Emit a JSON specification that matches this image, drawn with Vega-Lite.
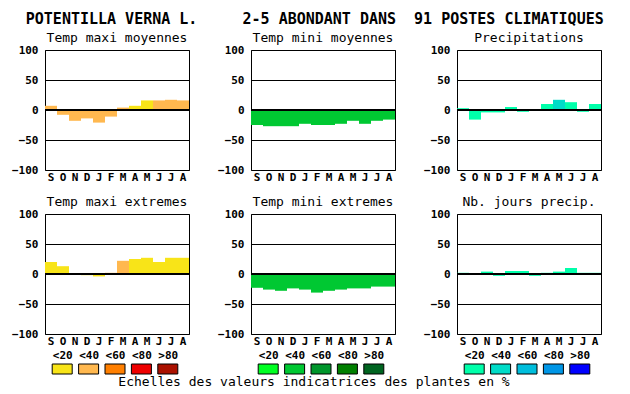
{
  "$schema": "https://vega.github.io/schema/vega-lite/v6.json",
  "background": "white",
  "padding": {"left": 11, "top": 11, "right": 5, "bottom": 2},
  "title": {"text": "POTENTILLA VERNA L.\u00a0\u00a0\u00a0\u00a0\u00a02-5 ABONDANT DANS\u00a0\u00a091 POSTES CLIMATIQUES", "fontSize": 15, "fontWeight": "bold", "anchor": "middle", "offset": 5, "dx": 8},
  "datasets": {
    "mois": [
      {"panel": "txm", "m": "Sep", "v": 7, "c": "<40"},
      {"panel": "txm", "m": "Oct", "v": -8, "c": "<40"},
      {"panel": "txm", "m": "Nov", "v": -18, "c": "<40"},
      {"panel": "txm", "m": "Dec", "v": -14, "c": "<40"},
      {"panel": "txm", "m": "Jan", "v": -21, "c": "<40"},
      {"panel": "txm", "m": "Feb", "v": -11, "c": "<40"},
      {"panel": "txm", "m": "Mar", "v": 4, "c": "<40"},
      {"panel": "txm", "m": "Apr", "v": 7, "c": "<20"},
      {"panel": "txm", "m": "May", "v": 16, "c": "<20"},
      {"panel": "txm", "m": "Jun", "v": 16, "c": "<40"},
      {"panel": "txm", "m": "Jul", "v": 17, "c": "<40"},
      {"panel": "txm", "m": "Aug", "v": 16, "c": "<40"},
      {"panel": "tnm", "m": "Sep", "v": -25, "c": "<40"},
      {"panel": "tnm", "m": "Oct", "v": -27, "c": "<40"},
      {"panel": "tnm", "m": "Nov", "v": -27, "c": "<40"},
      {"panel": "tnm", "m": "Dec", "v": -27, "c": "<40"},
      {"panel": "tnm", "m": "Jan", "v": -23, "c": "<40"},
      {"panel": "tnm", "m": "Feb", "v": -25, "c": "<40"},
      {"panel": "tnm", "m": "Mar", "v": -25, "c": "<40"},
      {"panel": "tnm", "m": "Apr", "v": -23, "c": "<40"},
      {"panel": "tnm", "m": "May", "v": -18, "c": "<40"},
      {"panel": "tnm", "m": "Jun", "v": -23, "c": "<40"},
      {"panel": "tnm", "m": "Jul", "v": -18, "c": "<40"},
      {"panel": "tnm", "m": "Aug", "v": -16, "c": "<40"},
      {"panel": "pr", "m": "Sep", "v": 3, "c": "<20"},
      {"panel": "pr", "m": "Oct", "v": -16, "c": "<20"},
      {"panel": "pr", "m": "Nov", "v": -4, "c": "<20"},
      {"panel": "pr", "m": "Dec", "v": -4, "c": "<20"},
      {"panel": "pr", "m": "Jan", "v": 5, "c": "<20"},
      {"panel": "pr", "m": "Feb", "v": -3, "c": "<20"},
      {"panel": "pr", "m": "Mar", "v": 0, "c": "<20"},
      {"panel": "pr", "m": "Apr", "v": 10, "c": "<20"},
      {"panel": "pr", "m": "May", "v": 17, "c": "<40"},
      {"panel": "pr", "m": "Jun", "v": 13, "c": "<20"},
      {"panel": "pr", "m": "Jul", "v": -3, "c": "<20"},
      {"panel": "pr", "m": "Aug", "v": 10, "c": "<20"},
      {"panel": "txe", "m": "Sep", "v": 20, "c": "<20"},
      {"panel": "txe", "m": "Oct", "v": 13, "c": "<20"},
      {"panel": "txe", "m": "Nov", "v": 0, "c": "<20"},
      {"panel": "txe", "m": "Dec", "v": -2, "c": "<20"},
      {"panel": "txe", "m": "Jan", "v": -4, "c": "<20"},
      {"panel": "txe", "m": "Feb", "v": 2, "c": "<40"},
      {"panel": "txe", "m": "Mar", "v": 22, "c": "<40"},
      {"panel": "txe", "m": "Apr", "v": 25, "c": "<20"},
      {"panel": "txe", "m": "May", "v": 27, "c": "<20"},
      {"panel": "txe", "m": "Jun", "v": 20, "c": "<20"},
      {"panel": "txe", "m": "Jul", "v": 27, "c": "<20"},
      {"panel": "txe", "m": "Aug", "v": 27, "c": "<20"},
      {"panel": "tne", "m": "Sep", "v": -23, "c": "<40"},
      {"panel": "tne", "m": "Oct", "v": -26, "c": "<40"},
      {"panel": "tne", "m": "Nov", "v": -28, "c": "<40"},
      {"panel": "tne", "m": "Dec", "v": -24, "c": "<40"},
      {"panel": "tne", "m": "Jan", "v": -26, "c": "<40"},
      {"panel": "tne", "m": "Feb", "v": -31, "c": "<40"},
      {"panel": "tne", "m": "Mar", "v": -28, "c": "<40"},
      {"panel": "tne", "m": "Apr", "v": -26, "c": "<40"},
      {"panel": "tne", "m": "May", "v": -24, "c": "<40"},
      {"panel": "tne", "m": "Jun", "v": -24, "c": "<40"},
      {"panel": "tne", "m": "Jul", "v": -21, "c": "<40"},
      {"panel": "tne", "m": "Aug", "v": -21, "c": "<40"},
      {"panel": "nj", "m": "Sep", "v": 2, "c": "<20"},
      {"panel": "nj", "m": "Oct", "v": 0, "c": "<20"},
      {"panel": "nj", "m": "Nov", "v": 4, "c": "<20"},
      {"panel": "nj", "m": "Dec", "v": -3, "c": "<20"},
      {"panel": "nj", "m": "Jan", "v": 5, "c": "<20"},
      {"panel": "nj", "m": "Feb", "v": 5, "c": "<20"},
      {"panel": "nj", "m": "Mar", "v": -3, "c": "<20"},
      {"panel": "nj", "m": "Apr", "v": 2, "c": "<20"},
      {"panel": "nj", "m": "May", "v": 4, "c": "<20"},
      {"panel": "nj", "m": "Jun", "v": 10, "c": "<20"},
      {"panel": "nj", "m": "Jul", "v": 2, "c": "<20"},
      {"panel": "nj", "m": "Aug", "v": 2, "c": "<20"}
    ],
    "classes": [
      {"c": "<20", "bas": 0, "haut": 1}, {"c": "<40", "bas": 0, "haut": 1}, {"c": "<60", "bas": 0, "haut": 1}, {"c": "<80", "bas": 0, "haut": 1}, {"c": ">80", "bas": 0, "haut": 1}
    ]
  },
  "data": {"name": "mois"},
  "columns": 3,
  "bounds": "flush",
  "align": "each",
  "spacing": {"row": 44, "column": 62},
  "resolve": {"scale": {"color": "independent"}},
  "concat": [
    {
      "width": 144, "height": 120,
      "title": "Temp maxi moyennes",
      "transform": [{"filter": "datum.panel === 'txm'"}],
      "layer": [
        {"mark": {"type": "bar"},
         "encoding": {
           "x": {"field": "m", "type": "nominal", "sort": null, "scale": {"paddingInner": 0, "paddingOuter": 0}},
           "y": {"field": "v", "type": "quantitative", "scale": {"domain": [-100, 100], "nice": false}, "axis": {"values": [-100, -50, 0, 50, 100], "labelOverlap": false}},
           "color": {"field": "c", "type": "nominal", "scale": {"domain": ["<20", "<40", "<60", "<80", ">80"], "range": ["#F8E418", "#FFB84F", "#FF7F00", "#EE0000", "#AA1100"]}, "legend": null}
         }},
        {"mark": {"type": "rule", "color": "black", "strokeWidth": 2}, "encoding": {"y": {"datum": 0, "type": "quantitative", "axis": {"values": [-100, -50, 0, 50, 100], "labelOverlap": false}}}}
      ]
    },
    {
      "width": 144, "height": 120,
      "title": "Temp mini moyennes",
      "transform": [{"filter": "datum.panel === 'tnm'"}],
      "layer": [
        {"mark": {"type": "bar"},
         "encoding": {
           "x": {"field": "m", "type": "nominal", "sort": null, "scale": {"paddingInner": 0, "paddingOuter": 0}},
           "y": {"field": "v", "type": "quantitative", "scale": {"domain": [-100, 100], "nice": false}, "axis": {"values": [-100, -50, 0, 50, 100], "labelOverlap": false}},
           "color": {"field": "c", "type": "nominal", "scale": {"domain": ["<20", "<40", "<60", "<80", ">80"], "range": ["#00FF22", "#00C832", "#00962C", "#007F00", "#006420"]}, "legend": null}
         }},
        {"mark": {"type": "rule", "color": "black", "strokeWidth": 2}, "encoding": {"y": {"datum": 0, "type": "quantitative", "axis": {"values": [-100, -50, 0, 50, 100], "labelOverlap": false}}}}
      ]
    },
    {
      "width": 144, "height": 120,
      "title": "Precipitations",
      "transform": [{"filter": "datum.panel === 'pr'"}],
      "layer": [
        {"mark": {"type": "bar"},
         "encoding": {
           "x": {"field": "m", "type": "nominal", "sort": null, "scale": {"paddingInner": 0, "paddingOuter": 0}},
           "y": {"field": "v", "type": "quantitative", "scale": {"domain": [-100, 100], "nice": false}, "axis": {"values": [-100, -50, 0, 50, 100], "labelOverlap": false}},
           "color": {"field": "c", "type": "nominal", "scale": {"domain": ["<20", "<40", "<60", "<80", ">80"], "range": ["#00FFAA", "#00DCC8", "#00BEDC", "#0096E6", "#0000FF"]}, "legend": null}
         }},
        {"mark": {"type": "rule", "color": "black", "strokeWidth": 2}, "encoding": {"y": {"datum": 0, "type": "quantitative", "axis": {"values": [-100, -50, 0, 50, 100], "labelOverlap": false}}}}
      ]
    },
    {
      "width": 144, "height": 120,
      "title": "Temp maxi extremes",
      "transform": [{"filter": "datum.panel === 'txe'"}],
      "layer": [
        {"mark": {"type": "bar"},
         "encoding": {
           "x": {"field": "m", "type": "nominal", "sort": null, "scale": {"paddingInner": 0, "paddingOuter": 0}},
           "y": {"field": "v", "type": "quantitative", "scale": {"domain": [-100, 100], "nice": false}, "axis": {"values": [-100, -50, 0, 50, 100], "labelOverlap": false}},
           "color": {"field": "c", "type": "nominal", "scale": {"domain": ["<20", "<40", "<60", "<80", ">80"], "range": ["#F8E418", "#FFB84F", "#FF7F00", "#EE0000", "#AA1100"]}, "legend": null}
         }},
        {"mark": {"type": "rule", "color": "black", "strokeWidth": 2}, "encoding": {"y": {"datum": 0, "type": "quantitative", "axis": {"values": [-100, -50, 0, 50, 100], "labelOverlap": false}}}}
      ]
    },
    {
      "width": 144, "height": 120,
      "title": "Temp mini extremes",
      "transform": [{"filter": "datum.panel === 'tne'"}],
      "layer": [
        {"mark": {"type": "bar"},
         "encoding": {
           "x": {"field": "m", "type": "nominal", "sort": null, "scale": {"paddingInner": 0, "paddingOuter": 0}},
           "y": {"field": "v", "type": "quantitative", "scale": {"domain": [-100, 100], "nice": false}, "axis": {"values": [-100, -50, 0, 50, 100], "labelOverlap": false}},
           "color": {"field": "c", "type": "nominal", "scale": {"domain": ["<20", "<40", "<60", "<80", ">80"], "range": ["#00FF22", "#00C832", "#00962C", "#007F00", "#006420"]}, "legend": null}
         }},
        {"mark": {"type": "rule", "color": "black", "strokeWidth": 2}, "encoding": {"y": {"datum": 0, "type": "quantitative", "axis": {"values": [-100, -50, 0, 50, 100], "labelOverlap": false}}}}
      ]
    },
    {
      "width": 144, "height": 120,
      "title": "Nb. jours precip.",
      "transform": [{"filter": "datum.panel === 'nj'"}],
      "layer": [
        {"mark": {"type": "bar"},
         "encoding": {
           "x": {"field": "m", "type": "nominal", "sort": null, "scale": {"paddingInner": 0, "paddingOuter": 0}},
           "y": {"field": "v", "type": "quantitative", "scale": {"domain": [-100, 100], "nice": false}, "axis": {"values": [-100, -50, 0, 50, 100], "labelOverlap": false}},
           "color": {"field": "c", "type": "nominal", "scale": {"domain": ["<20", "<40", "<60", "<80", ">80"], "range": ["#00FFAA", "#00DCC8", "#00BEDC", "#0096E6", "#0000FF"]}, "legend": null}
         }},
        {"mark": {"type": "rule", "color": "black", "strokeWidth": 2}, "encoding": {"y": {"datum": 0, "type": "quantitative", "axis": {"values": [-100, -50, 0, 50, 100], "labelOverlap": false}}}}
      ]
    },
    {
      "width": 144, "height": 10,
      "data": {"name": "classes"},
      "view": {"stroke": null},
      "mark": {"type": "bar", "width": 20, "stroke": "black", "strokeWidth": 1, "yOffset": -14, "y2Offset": -14},
      "encoding": {
        "x": {"field": "c", "type": "nominal", "sort": null, "scale": {"type": "point", "range": [4, 136]}, "axis": {"orient": "top", "offset": 13, "labelPadding": 5, "grid": false, "labelExpr": "datum.label"}},
        "y": {"field": "haut", "type": "quantitative", "scale": {"domain": [0, 1], "nice": false, "zero": false}, "axis": null},
        "y2": {"field": "bas"},
        "color": {"field": "c", "type": "nominal", "scale": {"domain": ["<20", "<40", "<60", "<80", ">80"], "range": ["#F8E418", "#FFB84F", "#FF7F00", "#EE0000", "#AA1100"]}, "legend": null}
      }
    },
    {
      "width": 144, "height": 10,
      "data": {"name": "classes"},
      "view": {"stroke": null},
      "title": {"text": "Echelles des valeurs indicatrices des plantes en %", "orient": "bottom", "anchor": "middle", "offset": -12, "dx": -9},
      "mark": {"type": "bar", "width": 20, "stroke": "black", "strokeWidth": 1, "yOffset": -14, "y2Offset": -14},
      "encoding": {
        "x": {"field": "c", "type": "nominal", "sort": null, "scale": {"type": "point", "range": [4, 136]}, "axis": {"orient": "top", "offset": 13, "labelPadding": 5, "grid": false, "labelExpr": "datum.label"}},
        "y": {"field": "haut", "type": "quantitative", "scale": {"domain": [0, 1], "nice": false, "zero": false}, "axis": null},
        "y2": {"field": "bas"},
        "color": {"field": "c", "type": "nominal", "scale": {"domain": ["<20", "<40", "<60", "<80", ">80"], "range": ["#00FF22", "#00C832", "#00962C", "#007F00", "#006420"]}, "legend": null}
      }
    },
    {
      "width": 144, "height": 10,
      "data": {"name": "classes"},
      "view": {"stroke": null},
      "mark": {"type": "bar", "width": 20, "stroke": "black", "strokeWidth": 1, "yOffset": -14, "y2Offset": -14},
      "encoding": {
        "x": {"field": "c", "type": "nominal", "sort": null, "scale": {"type": "point", "range": [4, 136]}, "axis": {"orient": "top", "offset": 13, "labelPadding": 5, "grid": false, "labelExpr": "datum.label"}},
        "y": {"field": "haut", "type": "quantitative", "scale": {"domain": [0, 1], "nice": false, "zero": false}, "axis": null},
        "y2": {"field": "bas"},
        "color": {"field": "c", "type": "nominal", "scale": {"domain": ["<20", "<40", "<60", "<80", ">80"], "range": ["#00FFAA", "#00DCC8", "#00BEDC", "#0096E6", "#0000FF"]}, "legend": null}
      }
    }
  ],
  "config": {
    "font": "DejaVu Sans Mono",
    "view": {"stroke": "black", "strokeWidth": 1},
    "title": {"font": "DejaVu Sans Mono", "fontSize": 13, "fontWeight": "normal", "color": "black", "offset": -1},
    "axis": {"labelFont": "DejaVu Sans Mono", "labelFontWeight": "bold", "labelFontSize": 11, "labelColor": "black", "ticks": false, "domain": false, "title": null},
    "axisY": {"grid": true, "gridColor": "black", "gridOpacity": 1, "gridWidth": 1, "labelPadding": 7},
    "axisX": {"grid": false, "labelPadding": 1, "labelAngle": 0, "labelExpr": "substring(datum.label, 0, 1)"}
  }
}
